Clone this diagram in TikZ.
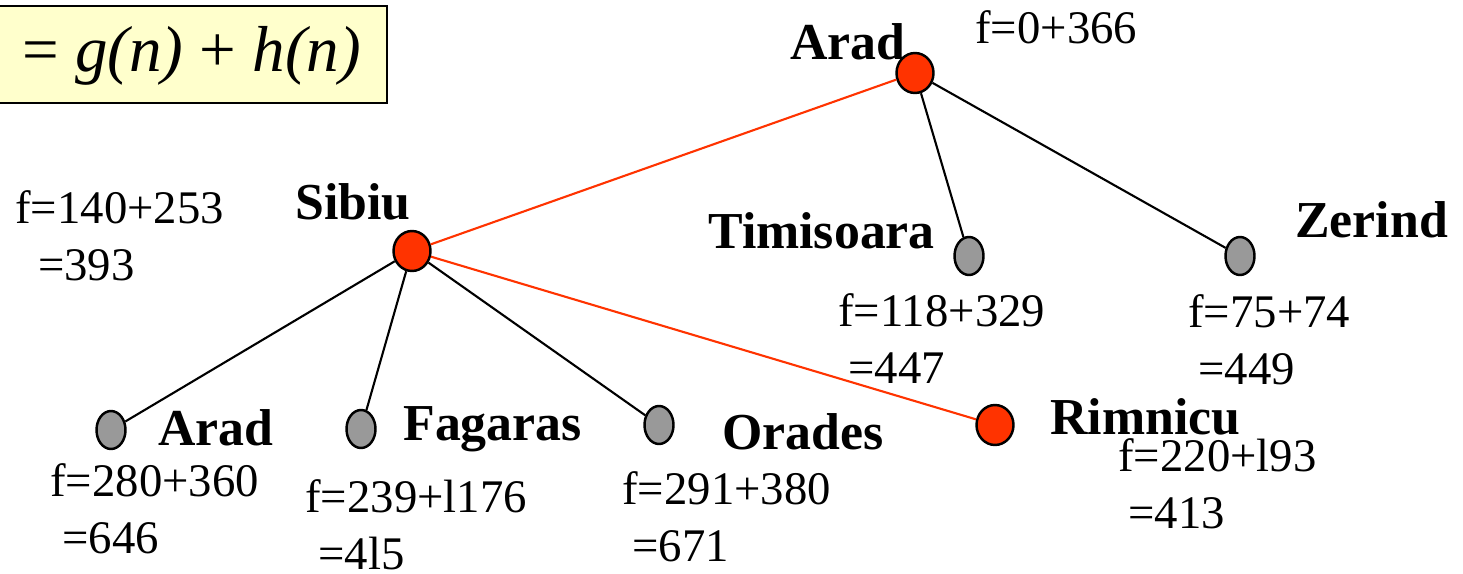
\documentclass[tikz,border=0pt]{standalone}
\usepackage{fontspec}
\setmainfont{Liberation Serif}
\usetikzlibrary{shapes.geometric}

\definecolor{expanded}{HTML}{FF3300}
\definecolor{frontier}{HTML}{999999}
\definecolor{formulabg}{HTML}{FFFFCC}

\begin{document}
\begin{tikzpicture}[
    x=0.02cm, y=-0.02cm,
    open/.style={ellipse, draw=black, line width=1.4pt, fill=expanded,
        inner sep=0pt, minimum width=0.74cm, minimum height=0.8cm},
    leaf/.style={ellipse, draw=black, line width=1.4pt, fill=frontier,
        inner sep=0pt, minimum width=0.58cm, minimum height=0.76cm},
    city/.style={font=\fontsize{29.5}{34}\selectfont\bfseries,
        inner sep=0pt, anchor=base west},
    cost/.style={font=\fontsize{26.6}{32.3}\selectfont,
        inner sep=0pt, anchor=base west, align=left},
    tree/.style={line width=1.2pt},
    redpath/.style={line width=1.2pt, draw=expanded}
]
\useasboundingbox (0,0) rectangle (1463,574);

% --- Formelkasten oben links (links abgeschnitten) ---
\draw[line width=1.4pt, fill=formulabg] (-20,6) rectangle (387,103);
\node[font=\fontsize{37}{40}\selectfont, inner sep=0pt, anchor=base west]
    (formula) at (22,72) {= \textit{g(n)} + \textit{h(n)}};

% --- Suchbaum: Knoten ---
\node[open] (arad)      at (915,73)  {};
\node[open] (sibiu)     at (412,251) {};
\node[leaf] (timisoara) at (969,256) {};
\node[leaf] (zerind)    at (1240,256) {};
\node[leaf] (aradb)     at (111,430) {};
\node[leaf] (fagaras)   at (361,429) {};
\node[leaf] (orades)    at (659,425) {};
\node[open] (rimnicu)   at (995,425) {};

% --- Suchbaum: Kanten ---
\draw[redpath] (arad) -- (sibiu);
\draw[tree]    (arad) -- (timisoara);
\draw[tree]    (arad) -- (zerind);
\draw[tree]    (sibiu) -- (aradb);
\draw[tree]    (sibiu) -- (fagaras);
\draw[tree]    (sibiu) -- (orades);
\draw[redpath] (sibiu) -- (rimnicu);

% --- Staedtenamen ---
\node[city] (aradname)      at (790,60)   {Arad};
\node[city] (sibiuname)     at (295,219)  {Sibiu};
\node[city] (timisoaraname) at (708,249)  {Timisoara};
\node[city] (zerindname)    at (1295,237) {Zerind};
\node[city] (aradbname)     at (158,445)  {Arad};
\node[city] (fagarasname)   at (403,440)  {Fagaras};
\node[city] (oradesname)    at (722,449)  {Orades};
\node[city] (rimnicuname)   at (1050,434) {Rimnicu};

% --- Bewertungen f = g + h (Basislinie der zweiten Zeile) ---
\node[cost] (aradf)      at (975,44)   {f=0+366};
\node[cost] (sibiuf)     at (15,280)   {f=140+253\\\hspace*{13pt}=393};
\node[cost] (timisoaraf) at (838,383)  {f=118+329\\\hspace*{5.7pt}=447};
\node[cost] (zerindf)    at (1188,384) {f=75+74\\\hspace*{5.7pt}=449};
\node[cost] (aradbf)     at (50,553)   {f=280+360\\\hspace*{6.8pt}=646};
\node[cost] (fagarasf)   at (305,569)  {f=239+l176\\\hspace*{7.4pt}=4l5};
\node[cost] (oradesf)    at (622,561)  {f=291+380\\\hspace*{5.7pt}=671};
\node[cost] (rimnicuf)   at (1118,528) {f=220+l93\\\hspace*{5.7pt}=413};

\end{tikzpicture}
\end{document}
